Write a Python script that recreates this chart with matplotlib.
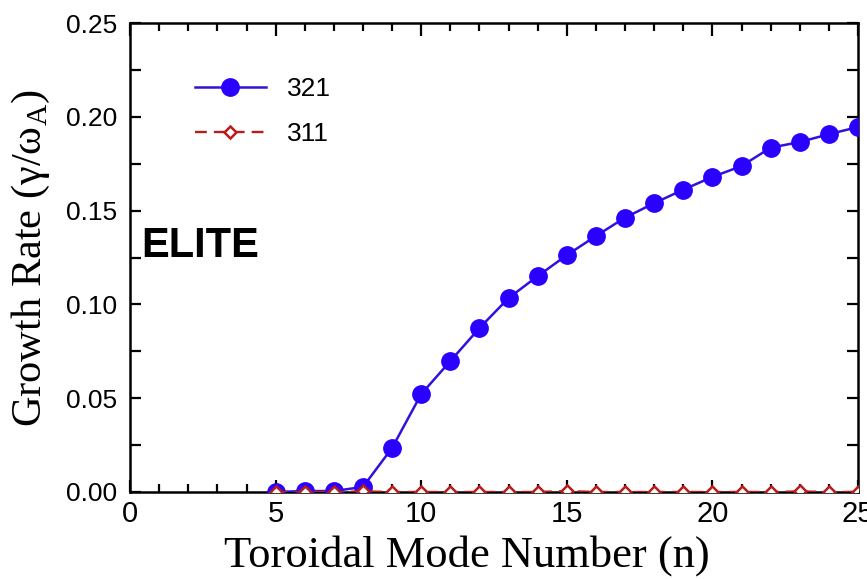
import matplotlib
matplotlib.use("Agg")
import matplotlib.pyplot as plt
from matplotlib.ticker import MultipleLocator, FormatStrFormatter

# ================= DATA =================

mode_n = [5, 6, 7, 8, 9, 10, 11, 12, 13, 14, 15, 16, 17, 18, 19, 20, 21, 22, 23, 24, 25]

rate_321 = [0.0, 0.0005, 0.0005, 0.0027, 0.0235, 0.0522, 0.0698, 0.0874, 0.1034,
            0.1151, 0.1263, 0.1365, 0.1463, 0.1540, 0.1612, 0.1680, 0.1738,
            0.1836, 0.1866, 0.1908, 0.1946]

rate_311 = [0.0, 0.0, 0.0, 0.0003, 0.0, 0.0, 0.0, 0.0, 0.0, 0.0, 0.0005, 0.0,
            0.0, 0.0, 0.0, 0.0, 0.0, 0.0, 0.0003, 0.0, 0.0]

labels = ["321", "311"]

# ================= PLOT =================

sans = ["Liberation Sans", "DejaVu Sans"]
serif = ["Liberation Serif", "DejaVu Serif"]
plt.rcParams["mathtext.fontset"] = "custom"
plt.rcParams["mathtext.rm"] = "Liberation Serif"

fig = plt.figure(figsize=(8.67, 5.79), dpi=100)
ax = fig.add_axes([0.150, 0.1503, 0.8396, 0.8097])

ax.plot(mode_n, rate_321, color="#3410dc", lw=1.8, marker="o", ms=12.5,
        mfc="#2a00ff", mec="#2a00ff", label=labels[0], zorder=3)
ax.plot(mode_n, rate_311, color="#b81c1c", lw=1.7, ls=(0, (5, 3)), marker="D",
        ms=6, mfc="white", mec="#b81c1c", mew=1.8, label=labels[1], zorder=4)

ax.set_xlim(0, 25)
ax.set_ylim(0, 0.25)

ax.xaxis.set_major_locator(MultipleLocator(5))
ax.xaxis.set_minor_locator(MultipleLocator(1))
ax.yaxis.set_major_locator(MultipleLocator(0.05))
ax.yaxis.set_minor_locator(MultipleLocator(0.025))
ax.yaxis.set_major_formatter(FormatStrFormatter("%.2f"))

ax.tick_params(which="both", direction="in", top=True, right=True, width=1.6)
ax.tick_params(axis="x", which="major", length=9, labelsize=21, pad=6)
ax.tick_params(axis="x", which="minor", length=5.5)
ax.tick_params(axis="y", which="both", length=8, labelsize=19, pad=9)
for lab in ax.get_xticklabels() + ax.get_yticklabels():
    lab.set_family(sans)

for sp in ax.spines.values():
    sp.set_linewidth(1.8)

ax.set_xlabel("Toroidal Mode Number (n)", fontsize=32, family=serif, labelpad=5)
ax.xaxis.label.set_x(0.463)
ax.set_ylabel(r"Growth Rate (γ/ω$_\mathrm{A}$)", fontsize=30.5, family=serif, labelpad=10)

ax.text(0.4, 0.131, "ELITE", fontsize=30, fontweight="bold", family=sans,
        va="center", ha="left")

ax.legend(loc="upper left", bbox_to_anchor=(0.056, 0.935), frameon=False,
          handlelength=2.7, labelspacing=0.8, handletextpad=0.8,
          prop={"family": sans, "size": 19})

fig.savefig("out.png", dpi=100)
